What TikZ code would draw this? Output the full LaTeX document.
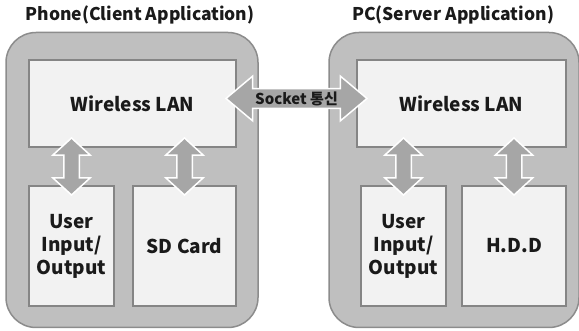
\documentclass[tikz,border=0pt]{standalone}
\usepackage{fontspec}
\setmainfont{Noto Sans CJK KR}
\usetikzlibrary{shapes.arrows,calc}
\definecolor{shell}{HTML}{BFBFBF}
\definecolor{shellline}{HTML}{8C8C8C}
\definecolor{blockfill}{HTML}{F2F2F2}
\definecolor{blockline}{HTML}{858585}
\definecolor{arrowfill}{HTML}{A6A6A6}
\definecolor{ink}{HTML}{1A1A1A}
\begin{document}
\begin{tikzpicture}
		[	x=1pt,y=1pt,
		device/.style={rectangle,rounded corners=30pt,draw=shellline,fill=shell,line width=1.5pt,minimum height=295pt,inner sep=0pt},
		block/.style={rectangle,draw=blockline,fill=blockfill,line width=1.2pt,inner sep=0pt,text=ink,font=\bfseries\fontsize{19}{23}\selectfont,align=center},
		title/.style={draw=none,fill=none,text=ink,font=\bfseries\fontsize{17.5}{20}\selectfont},
		link/.style={double arrow,draw=white,fill=arrowfill,line width=1.5pt,inner xsep=0pt},
		updown/.style={link,rotate=90,inner ysep=7pt,minimum height=57pt,double arrow head extend=11pt,double arrow tip angle=95}
		]
		\useasboundingbox (0,0) rectangle (579,331);
		% two devices
		\node[device,minimum width=252pt] (phone) at (132,151){};
		\node[device,minimum width=250pt] (pc) at (454,151){};
		\node[title] (phoneT) at (140,316){Phone(Client Application)};
		\node[title] (pcT) at (453,316){PC(Server Application)};

		\node[block,minimum width=207pt,minimum height=87pt] (wlanL) at (132.5,227.5){Wireless LAN};
		\node[block,minimum width=85pt,minimum height=120pt] (ioL) at (71.5,85){User\\Input/\\Output};
		\node[block,minimum width=103pt,minimum height=120pt] (sdL) at (184.5,85){SD Card};

		\node[block,minimum width=209pt,minimum height=87pt] (wlanR) at (461.5,227.5){Wireless LAN};
		\node[block,minimum width=85pt,minimum height=120pt] (ioR) at (403.5,85){User\\Input/\\Output};
		\node[block,minimum width=104pt,minimum height=120pt] (hddR) at (514,85){H.D.D};

% block arrows
\node[updown] (ioLlink) at ($(ioL.north|-wlanL.south)!.5!(ioL.north)$){};
\node[updown] (sdLlink) at ($(sdL.north|-wlanL.south)!.5!(sdL.north)$){};
\node[updown] (ioRlink) at ($(ioR.north|-wlanR.south)!.5!(ioR.north)$){};
\node[updown] (hddRlink) at ($(hddR.north|-wlanR.south)!.5!(hddR.north)$){};
\node[link,inner ysep=2pt,minimum height=141pt,double arrow head extend=12.5pt,double arrow tip angle=80,text=ink,font=\bfseries\fontsize{15}{16}\selectfont,yshift=5pt]
	(socket) at ($(wlanL.east)!.5!(wlanR.west)$){Socket 통신};
	\end{tikzpicture}
\end{document}
